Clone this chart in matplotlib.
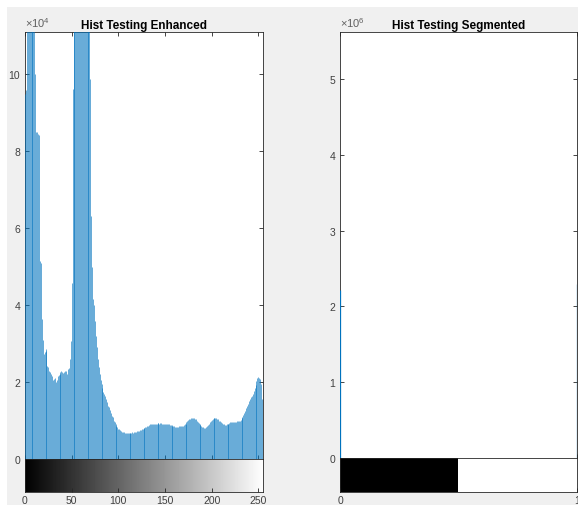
import numpy as np
import matplotlib.pyplot as plt
from matplotlib.patches import Rectangle

plt.rcParams['font.family'] = 'Liberation Sans'
plt.rcParams['mathtext.fontset'] = 'custom'
plt.rcParams['mathtext.rm'] = 'Liberation Sans'

# histogram of the enhanced image, counts in units of 1e4 (bins 0..255)
enhanced_counts_1e4 = [
    9.5, 9.6, 13.0, 16.5, 19.0, 17.2, 15.0, 14.1, 12.8, 12.0, 11.4, 10.0, 8.5, 8.5, 8.45, 8.42,
    5.15, 5.1, 3.64, 3.1, 2.72, 2.78, 2.85, 2.82, 2.42, 2.4, 2.3, 2.26, 2.2, 2.16, 2.05, 2.08,
    2.1, 1.99, 2.05, 2.17, 2.19, 2.2, 2.25, 2.3, 2.27, 2.23, 2.25, 2.28, 2.3, 2.22, 2.35, 2.36,
    2.6, 3.06, 4.57, 9.63, 12.5, 14.0, 15.8, 17.5, 19.0, 20.4, 21.6, 22.5, 23.0, 22.8, 21.9, 20.3,
    18.6, 16.7, 14.8, 13.0, 11.6, 11.2, 9.87, 6.32, 5.0, 4.15, 4.0, 3.6, 3.2, 2.9, 2.6, 2.4,
    2.2, 2.05, 1.95, 1.85, 1.75, 1.7, 1.64, 1.55, 1.47, 1.38, 1.34, 1.28, 1.2, 1.12, 1.08, 1.0,
    0.95, 0.9, 0.87, 0.82, 0.79, 0.77, 0.75, 0.73, 0.71, 0.71, 0.69, 0.68, 0.68, 0.67, 0.68, 0.68,
    0.67, 0.68, 0.68, 0.69, 0.68, 0.69, 0.7, 0.71, 0.72, 0.72, 0.73, 0.75, 0.76, 0.77, 0.78, 0.8,
    0.81, 0.83, 0.84, 0.86, 0.87, 0.88, 0.9, 0.9, 0.91, 0.91, 0.92, 0.92, 0.92, 0.92, 0.93, 0.93,
    0.92, 0.93, 0.93, 0.92, 0.92, 0.92, 0.91, 0.91, 0.9, 0.9, 0.9, 0.89, 0.89, 0.88, 0.87, 0.86,
    0.85, 0.84, 0.84, 0.84, 0.84, 0.85, 0.86, 0.86, 0.86, 0.87, 0.88, 0.9, 0.92, 0.95, 0.98, 1.01,
    1.03, 1.05, 1.06, 1.07, 1.07, 1.06, 1.05, 1.03, 1.0, 0.97, 0.94, 0.91, 0.88, 0.86, 0.84, 0.82,
    0.81, 0.81, 0.82, 0.85, 0.88, 0.92, 0.96, 0.99, 1.02, 1.04, 1.06, 1.07, 1.07, 1.07, 1.05, 1.03,
    1.0, 0.98, 0.95, 0.93, 0.91, 0.9, 0.89, 0.89, 0.9, 0.91, 0.92, 0.93, 0.95, 0.96, 0.97, 0.97,
    0.97, 0.97, 0.97, 0.98, 0.98, 0.98, 1.0, 1.02, 1.06, 1.1, 1.15, 1.2, 1.26, 1.32, 1.38, 1.44,
    1.5, 1.55, 1.6, 1.65, 1.7, 1.76, 1.84, 1.92, 2.02, 2.1, 2.12, 2.1, 2.08, 1.95, 1.56, 5.06,
]
enhanced_levels = np.arange(len(enhanced_counts_1e4))
enhanced_ylim = 11.1e4
enhanced_yticks = [0, 2, 4, 6, 8, 10]
enhanced_xticks = [0, 50, 100, 150, 200, 250]

# histogram of the binary segmented image
segmented_levels = [0, 1]
segmented_counts = [2.21e6, 2.30e6]
segmented_ylim = 5.62e6
segmented_yticks = [0, 1, 2, 3, 4, 5]

W, H = 578, 506
STEM = '#0072BD'
DARK = '#262626'
LABEL = '#404040'

fig = plt.figure(figsize=(W / 100, H / 100), dpi=100, facecolor='white')
fig.add_artist(Rectangle((7 / W, 0), 1, 1 - 8 / H, transform=fig.transFigure,
                         facecolor='#f0f0f0', edgecolor='none', zorder=-10))


def px_axes(x0, y0, x1, y1):
    return fig.add_axes([x0 / W, 1 - y1 / H, (x1 - x0) / W, (y1 - y0) / H])


def style(ax):
    for sp in ax.spines.values():
        sp.set_color(DARK)
        sp.set_linewidth(0.6)
    ax.tick_params(direction='in', length=3, width=0.6, colors=DARK, labelcolor=LABEL,
                   labelsize=7.5, top=True, right=True, pad=3.5)


def hist_panel(box, cbox, levels, counts, ylim, yticks, scale, exp, title, xlim, xticks,
               bar_img, stem_lw):
    ax = px_axes(*box)
    ax.set_facecolor('white')
    ax.vlines(levels, 0, counts, colors=STEM, linewidth=stem_lw, zorder=3)
    ax.set_xlim(*xlim)
    ax.set_ylim(0, ylim)
    ax.set_yticks([t * scale for t in yticks])
    ax.set_yticklabels([str(t) for t in yticks])
    ax.set_xticks(xticks)
    ax.set_xticklabels([])
    style(ax)
    ax.set_title(title, fontweight='bold', fontsize=8.5, pad=3, color='black')
    ax.text(0, 1.008, r'$\times10^{%d}$' % exp, transform=ax.transAxes,
            ha='left', va='bottom', fontsize=8, color='#606060')

    cb = px_axes(*cbox)
    cb.imshow(bar_img[0], cmap='gray', aspect='auto', extent=bar_img[1],
              interpolation='nearest', vmin=bar_img[0].min(), vmax=bar_img[0].max())
    cb.set_xlim(*xlim)
    cb.set_ylim(0, 1)
    cb.set_yticks([])
    cb.set_xticks(xticks)
    cb.set_xticklabels([str(t) for t in xticks])
    style(cb)
    cb.tick_params(top=False, right=False, pad=2)
    return ax, cb


grad = np.arange(256)[None, :]
hist_panel((25, 33, 263, 460), (25, 460, 263, 493),
           enhanced_levels, np.array(enhanced_counts_1e4) * 1e4, enhanced_ylim,
           enhanced_yticks, 1e4, 4, 'Hist Testing Enhanced',
           (0, 255), enhanced_xticks, (grad, [-0.5, 255.5, 0, 1]), 0.42)

binary = np.array([[0, 1]])
hist_panel((340, 33, 577, 459), (340, 459, 577, 493),
           segmented_levels, segmented_counts, segmented_ylim,
           segmented_yticks, 1e6, 6, 'Hist Testing Segmented',
           (0, 1), [0, 1], (binary, [0, 1, 0, 1]), 0.9)

fig.savefig('out.png', dpi=100, facecolor=fig.get_facecolor())
